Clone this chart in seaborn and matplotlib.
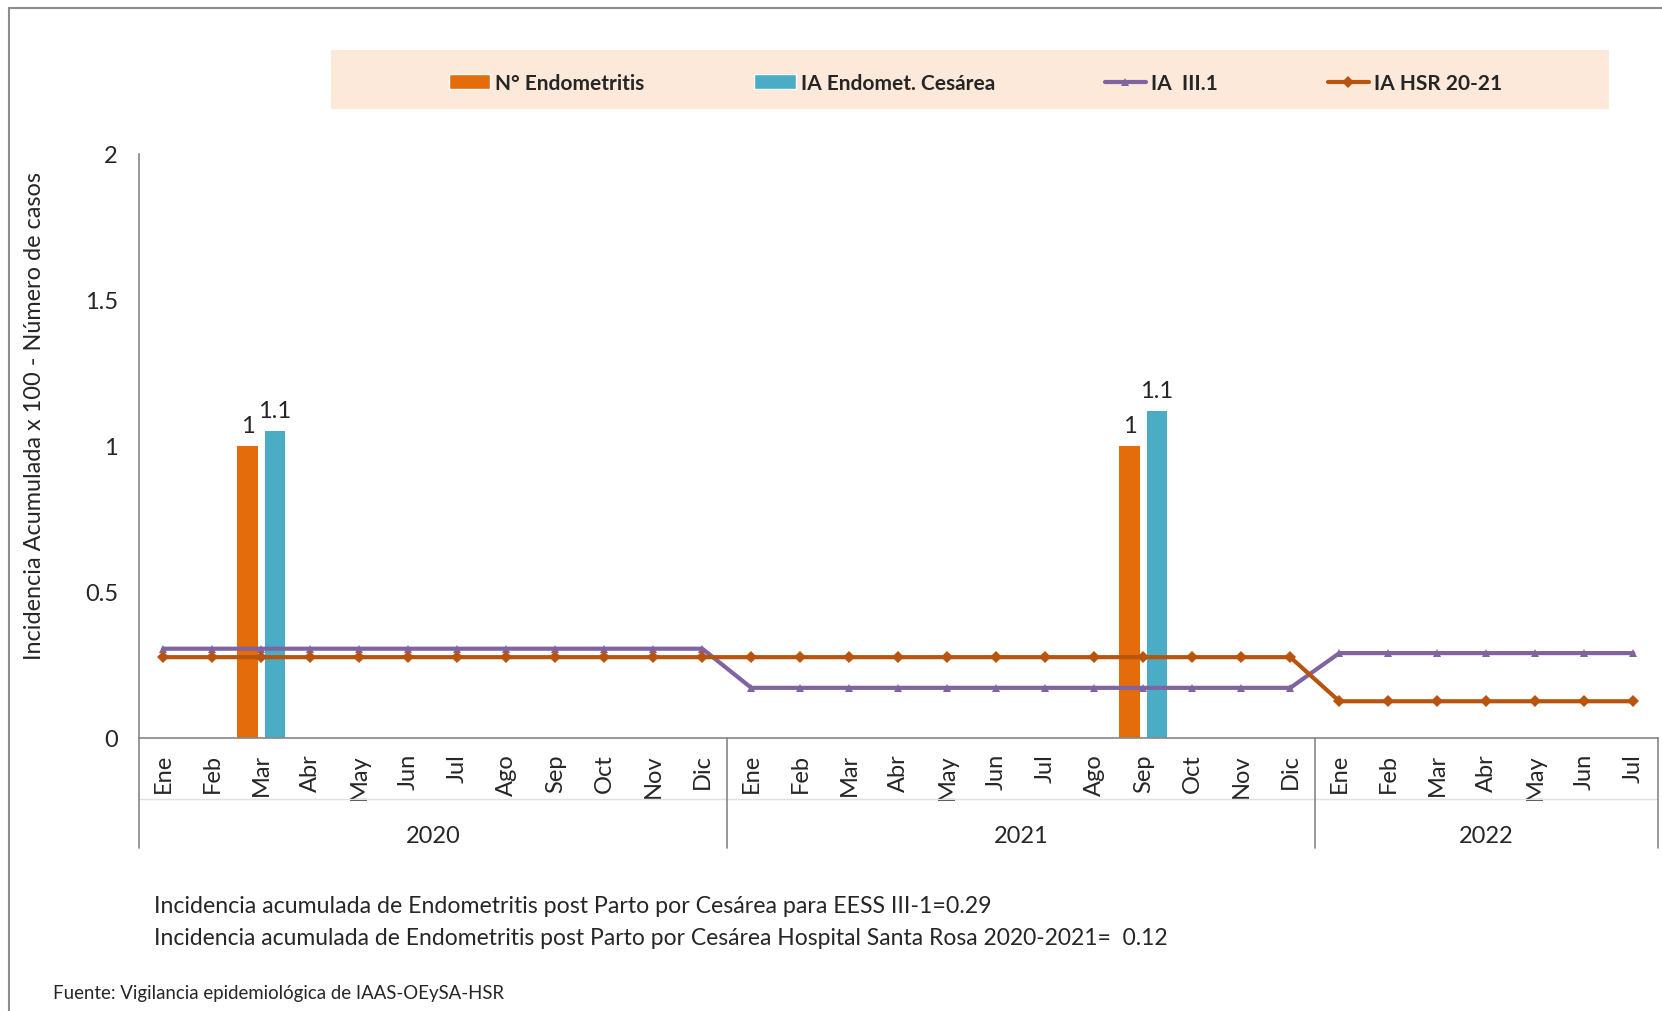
import matplotlib
matplotlib.use("Agg")
import matplotlib.pyplot as plt
import matplotlib.ticker as ticker
from matplotlib.patches import Rectangle
from matplotlib.lines import Line2D
import seaborn as sns
import pandas as pd

# Data
month_labels = ["Ene", "Feb", "Mar", "Abr", "May", "Jun", "Jul", "Ago", "Sep", "Oct", "Nov", "Dic",
                "Ene", "Feb", "Mar", "Abr", "May", "Jun", "Jul", "Ago", "Sep", "Oct", "Nov", "Dic",
                "Ene", "Feb", "Mar", "Abr", "May", "Jun", "Jul"]
years = ["2020", "2021", "2022"]
year_lengths = [12, 12, 7]

n_endometritis = [0, 0, 1, 0, 0, 0, 0, 0, 0, 0, 0, 0,
                  0, 0, 0, 0, 0, 0, 0, 0, 1, 0, 0, 0,
                  0, 0, 0, 0, 0, 0, 0]
ia_cesarea = [0, 0, 1.05, 0, 0, 0, 0, 0, 0, 0, 0, 0,
              0, 0, 0, 0, 0, 0, 0, 0, 1.12, 0, 0, 0,
              0, 0, 0, 0, 0, 0, 0]
ia_iii1 = [0.305, 0.305, 0.305, 0.305, 0.305, 0.305, 0.305, 0.305, 0.305, 0.305, 0.305, 0.305,
           0.171, 0.171, 0.171, 0.171, 0.171, 0.171, 0.171, 0.171, 0.171, 0.171, 0.171, 0.171,
           0.29, 0.29, 0.29, 0.29, 0.29, 0.29, 0.29]
ia_hsr = [0.276, 0.276, 0.276, 0.276, 0.276, 0.276, 0.276, 0.276, 0.276, 0.276, 0.276, 0.276,
          0.276, 0.276, 0.276, 0.276, 0.276, 0.276, 0.276, 0.276, 0.276, 0.276, 0.276, 0.276,
          0.125, 0.125, 0.125, 0.125, 0.125, 0.125, 0.125]

series_names = ["N° Endometritis", "IA Endomet. Cesárea", "IA  III.1", "IA HSR 20-21"]
y_label = "Incidencia Acumulada x 100 - Número de casos"
note1 = "Incidencia acumulada de Endometritis post Parto por Cesárea para EESS III-1=0.29"
note2 = "Incidencia acumulada de Endometritis post Parto por Cesárea Hospital Santa Rosa 2020-2021=  0.12"
source = "Fuente: Vigilancia epidemiológica de IAAS-OEySA-HSR"

# Style
orange = "#E46C0A"
blue = "#4BACC6"
purple = "#8064A2"
brown = "#B8540D"
gray = "#868686"
fs = 17

sns.set_style("white")
plt.rcParams['font.family'] = ['Lato', 'DejaVu Sans']

fig = plt.figure(figsize=(16.62, 10.12), dpi=100)
ax = fig.add_axes([0.0835, 0.270, 0.914, 0.577])

pos = list(range(len(month_labels)))
n = len(pos)
bars = pd.DataFrame({
    "pos": pos + pos,
    "valor": n_endometritis + ia_cesarea,
    "serie": [series_names[0]] * n + [series_names[1]] * n,
})
sns.barplot(data=bars, x="pos", y="valor", hue="serie", order=pos,
            hue_order=series_names[:2], palette=[orange, blue],
            width=1.12, gap=0.25, saturation=1, linewidth=0, errorbar=None,
            legend=False, ax=ax)

for cont in ax.containers:
    vals = [b.get_height() for b in cont]
    labs = [("%.1f" % v).rstrip("0").rstrip(".") if v > 0 else "" for v in vals]
    ax.bar_label(cont, labels=labs, padding=7, fontsize=fs)

sns.lineplot(x=pos, y=ia_iii1, color=purple, linewidth=3, marker="^",
             markersize=6, markeredgewidth=0, ax=ax, zorder=3)
sns.lineplot(x=pos, y=ia_hsr, color=brown, linewidth=3, marker="D",
             markersize=6, markeredgewidth=0, ax=ax, zorder=4)

ax.set_xlim(-0.5, n - 0.5)
ax.set_ylim(0, 2)
ax.set_xticks(pos)
ax.set_xticklabels(month_labels, rotation=90, fontsize=fs)
ax.tick_params(axis="x", length=0, pad=11)
ax.set_yticks([0, 0.5, 1, 1.5, 2])
ax.yaxis.set_major_formatter(ticker.FormatStrFormatter("%g"))
ax.tick_params(axis="y", length=5, width=1.2, color=gray, direction="out", pad=10, labelsize=fs)
ax.set_xlabel("")
ax.set_ylabel(y_label, fontsize=16.9)
ax.yaxis.set_label_coords(-0.062, 0.553)

for s in ["top", "right"]:
    ax.spines[s].set_visible(False)
for s in ["left", "bottom"]:
    ax.spines[s].set_color(gray)
    ax.spines[s].set_linewidth(1.2)

# multi-level category axis
tr = ax.get_xaxis_transform()
start = -0.5
ax.plot([-0.5, n - 0.5], [-0.105, -0.105], transform=tr, color="#E0E0E0",
        lw=1, clip_on=False)
ax.plot([start, start], [0, -0.189], transform=tr, color=gray, lw=1.2, clip_on=False)
for yr, ln in zip(years, year_lengths):
    end = start + ln
    ax.plot([end, end], [0, -0.189], transform=tr, color=gray, lw=1.2, clip_on=False)
    ax.text((start + end) / 2, -0.167, yr, transform=tr, ha="center", va="center", fontsize=fs)
    start = end

# legend box
fig.add_artist(Rectangle((0.199, 0.891), 0.769, 0.059, transform=fig.transFigure,
                         facecolor="#FDE9D9", edgecolor="none", zorder=0))
handles = [Rectangle((0, 0), 1, 1, facecolor=orange),
           Rectangle((0, 0), 1, 1, facecolor=blue),
           Line2D([], [], color=purple, lw=3, marker="^", markersize=6, markeredgewidth=0),
           Line2D([], [], color=brown, lw=3, marker="D", markersize=6, markeredgewidth=0)]
fig.legend(handles, series_names, loc="center", bbox_to_anchor=(0.587, 0.917), ncol=4,
           frameon=False, prop={"weight": "bold", "size": 15}, columnspacing=5.25,
           handlelength=2.0, handletextpad=0.25)

# outer frame
fig.add_artist(Line2D([0.0054, 1], [0.991, 0.991], color="#8C8C8C", lw=1.5))
fig.add_artist(Line2D([0.0054, 0.0054], [0, 0.991], color="#8C8C8C", lw=1.5))

fig.text(0.0925, 0.104, note1, fontsize=16.7, va="center")
fig.text(0.0925, 0.073, note2, fontsize=16.5, va="center")
fig.text(0.032, 0.018, source, fontsize=13.4, va="center")

fig.savefig("out.png", dpi=100)
